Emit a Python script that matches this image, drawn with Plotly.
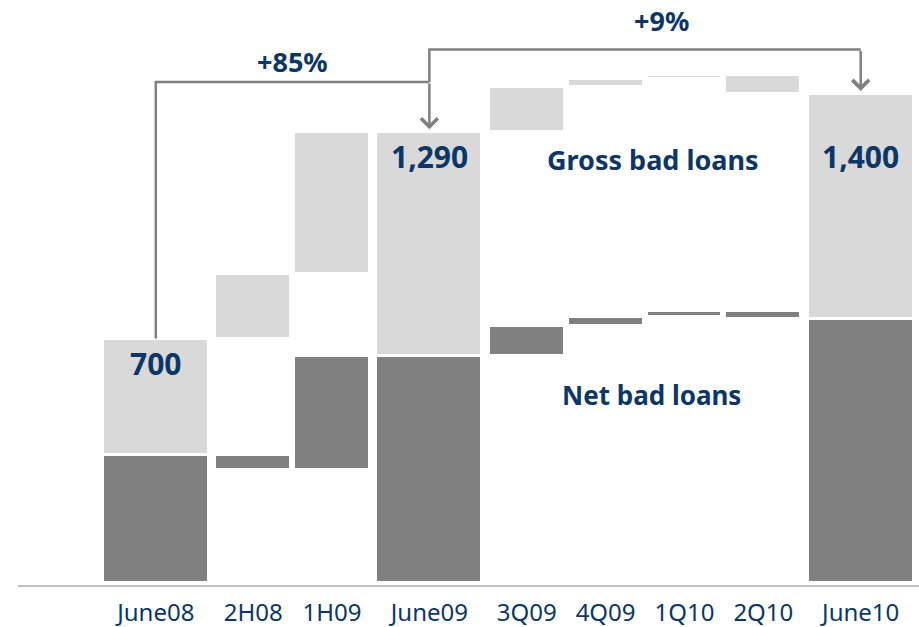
import plotly.graph_objects as go

# Bad-loan bridge, June 2008 -> June 2010 (EUR m)
categories = ["June08", "2H08", "1H09", "June09", "3Q09", "4Q09", "1Q10", "2Q10", "June10"]
kinds = ["total", "step", "step", "total", "step", "step", "step", "step", "total"]
gross_values = [700, 185, 405, 1290, 130, 22, 11, -53, 1400]
net_values = [368, -45, 327, 650, 85, 28, 17, -25, 755]
growth_labels = ["+85%", "+9%"]

NAVY = "#0B3768"
LIGHT = "#D9D9D9"
DARK = "#808080"
FONT = "Noto Sans"

# column layout: total columns are wider than the period steps
SLOT = {"total": 1.468, "step": 1.0}
WIDTH = {"total": 1.344, "step": 0.963}
pos = []
cur = 0.0
for i, k in enumerate(kinds):
    if i:
        cur += (SLOT[kinds[i - 1]] + SLOT[k]) / 2
    pos.append(cur)
widths = [WIDTH[k] for k in kinds]


def waterfall(values):
    bases, heights, level = [], [], 0
    for k, v in zip(kinds, values):
        if k == "total":
            bases.append(0)
            heights.append(v)
            level = v
        else:
            bases.append(level)
            heights.append(v)
            level += v
    return bases, heights


net_base, net_h = waterfall(net_values)
gross_base, gross_h = waterfall(gross_values)
# on total columns the light block sits on top of the net block
for i, k in enumerate(kinds):
    if k == "total":
        gross_base[i] = net_values[i]
        gross_h[i] = gross_values[i] - net_values[i]

totals_idx = [i for i, k in enumerate(kinds) if k == "total"]

fig = go.Figure()
fig.add_trace(go.Bar(x=pos, y=net_h, base=net_base, width=widths,
                     marker=dict(color=DARK, line=dict(color="white", width=3)),
                     hoverinfo="skip", showlegend=False))
fig.add_trace(go.Bar(x=pos, y=gross_h, base=gross_base, width=widths,
                     marker=dict(color=LIGHT, line=dict(color="white", width=3)),
                     hoverinfo="skip", showlegend=False))

# growth brackets between the total columns
t0, t1, t2 = totals_idx
g0, g1, g2 = (gross_values[i] for i in totals_idx)
level1 = g1 + 144
level2 = g1 + 237
line_style = dict(color=DARK, width=2.5)
fig.add_trace(go.Scatter(x=[pos[t0], pos[t0], pos[t1]], y=[g0, level1, level1],
                         mode="lines", line=line_style, hoverinfo="skip", showlegend=False))
fig.add_trace(go.Scatter(x=[pos[t1], pos[t1], pos[t2]], y=[level1, level2, level2],
                         mode="lines", line=line_style, hoverinfo="skip", showlegend=False))

annotations = []
for (src, lvl, dst) in [(t1, level1, g1), (t2, level2, g2)]:
    annotations.append(dict(x=pos[src], y=dst, ax=pos[src], ay=lvl, xref="x", yref="y",
                            axref="x", ayref="y", text="", showarrow=True,
                            arrowhead=4, arrowsize=1.3, arrowwidth=2.5,
                            arrowcolor=DARK, standoff=3))
annotations.append(dict(x=(pos[t0] + pos[t1]) / 2, y=level1, yshift=0, text=growth_labels[0],
                        showarrow=False, yanchor="bottom",
                        font=dict(family=FONT, size=27, color=NAVY, weight="bold")))
annotations.append(dict(x=(pos[t1] + pos[t2]) / 2, y=level2, xshift=16, yshift=9,
                        text=growth_labels[1], showarrow=False, yanchor="bottom",
                        font=dict(family=FONT, size=27, color=NAVY, weight="bold")))

# value labels inside the total columns
for i in totals_idx:
    top = min(gross_values[i], gross_values[t1])
    annotations.append(dict(x=pos[i], y=top, yshift=-2, text=f"{gross_values[i]:,}",
                            showarrow=False, yanchor="top",
                            font=dict(family=FONT, size=30, color=NAVY, weight="bold")))

annotations.append(dict(x=6.3, y=1211, text="Gross bad loans", showarrow=False,
                        font=dict(family=FONT, size=27, color=NAVY, weight="bold")))
annotations.append(dict(x=6.29, y=538, text="Net bad loans", showarrow=False,
                        font=dict(family=FONT, size=26, color=NAVY, weight="bold")))

fig.update_layout(
    width=919, height=627,
    margin=dict(l=18, r=0, t=0, b=42),
    paper_bgcolor="white", plot_bgcolor="white",
    barmode="overlay", bargap=0,
    annotations=annotations,
    xaxis=dict(tickvals=pos, ticktext=categories, range=[-1.747, 9.675],
               showline=True, linecolor="#C0C0C0", linewidth=2,
               showgrid=False, zeroline=False, ticks="", ticklabelstandoff=5,
               tickfont=dict(family=FONT, size=24, color=NAVY)),
    yaxis=dict(visible=False, range=[-5.15, 1668.7], showgrid=False, zeroline=False),
)

fig.write_html("out.html")
